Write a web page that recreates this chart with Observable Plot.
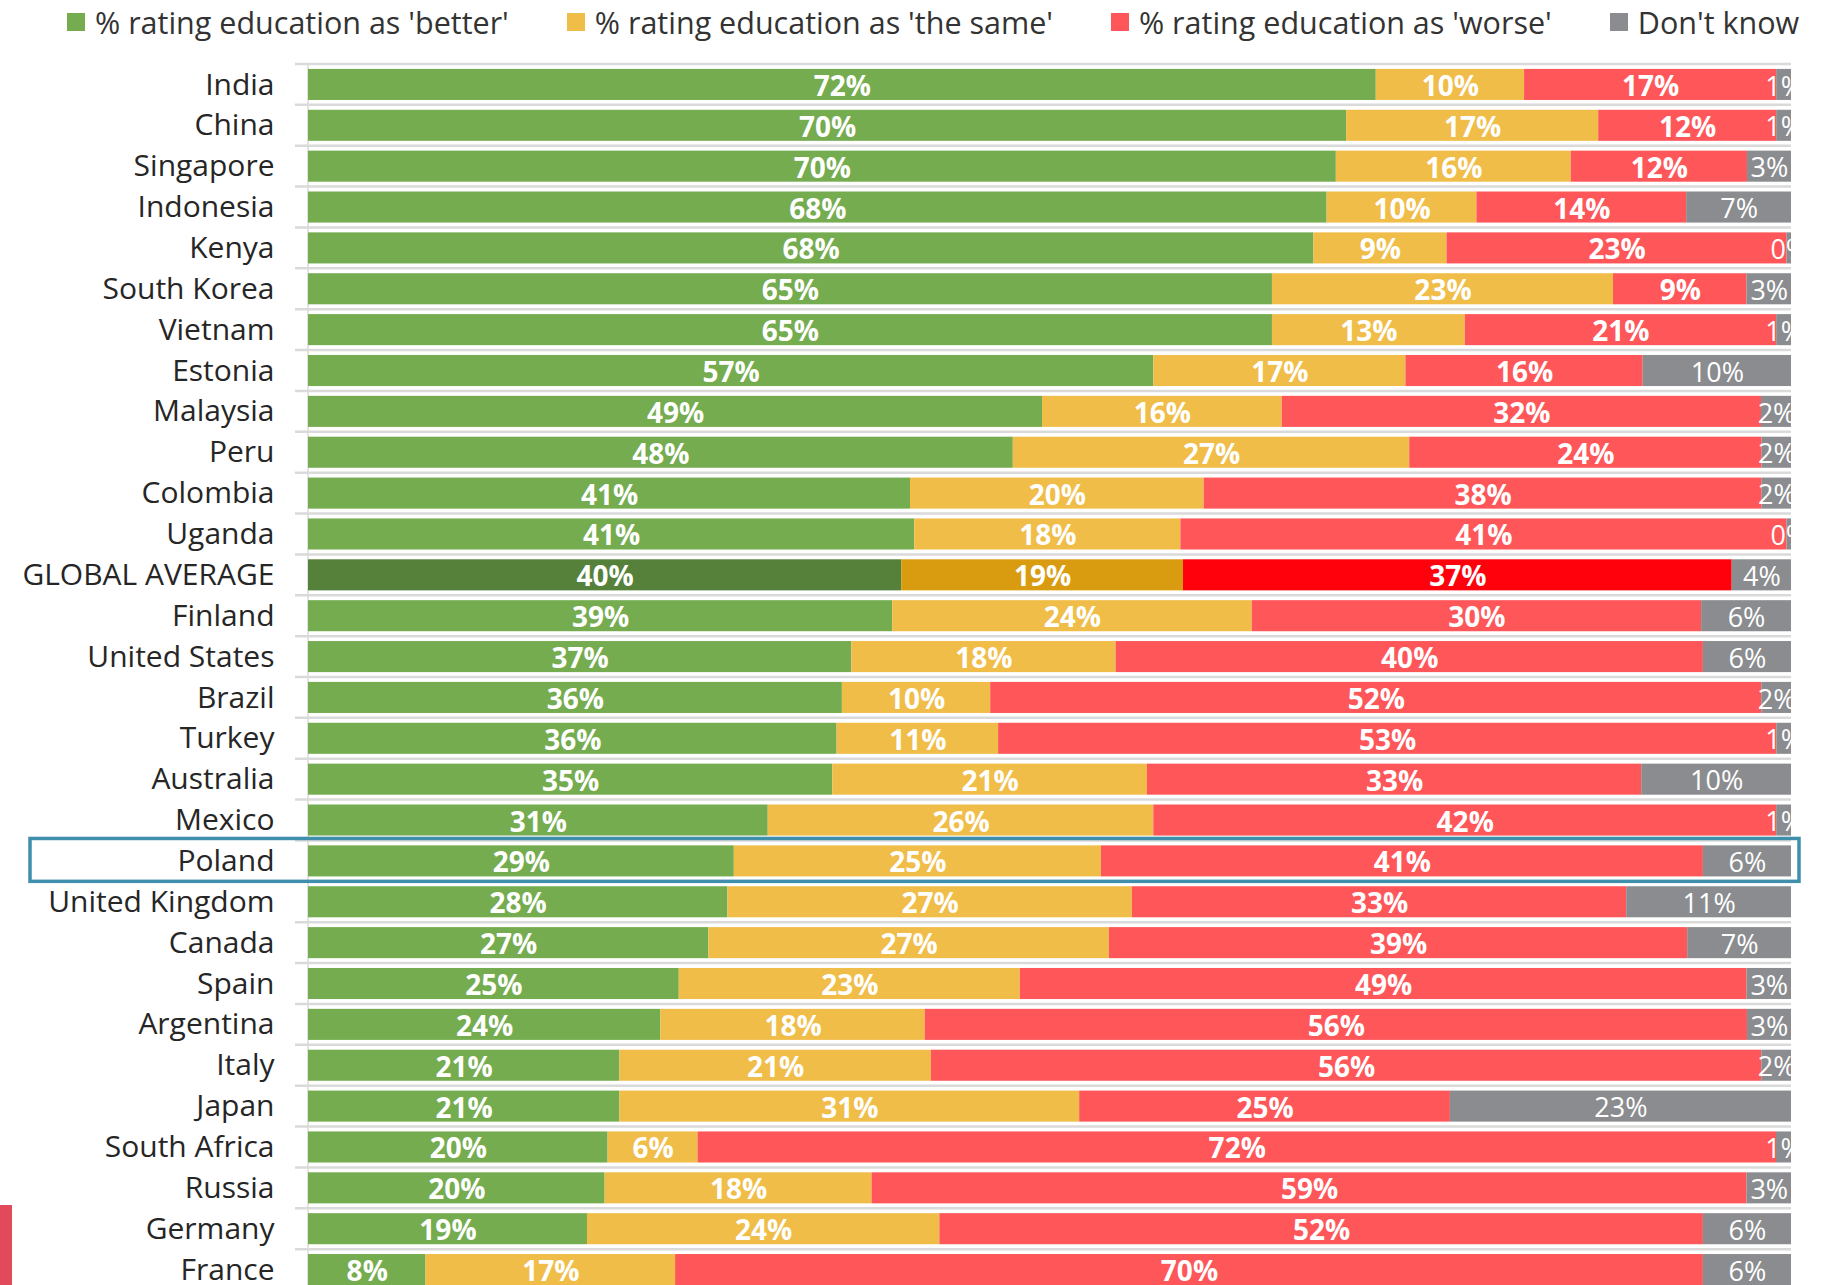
<!DOCTYPE html>
<html>
<head>
<meta charset="utf-8">
<script src="https://cdn.jsdelivr.net/npm/d3@7"></script>
<script src="https://cdn.jsdelivr.net/npm/@observablehq/plot@0.6"></script>
<style>
  html, body { margin: 0; padding: 0; background: #fff; }
  body { width: 1826px; height: 1285px; overflow: hidden; position: relative; font-family: "Open Sans", sans-serif; }
  #legend { height: 44px; position: relative; display: flex; align-items: center; padding-left: 67px; gap: 58px; }
  .item { display: flex; align-items: center; font-size: 30.5px; color: #333; white-space: nowrap; }
  .sw { width: 18px; height: 18px; margin-right: 10px; }
  #artifact { position: absolute; left: 0; top: 1205px; width: 12px; height: 80px; background: #e04a5a; }
  svg { display: block; }
</style>
</head>
<body>
<div id="legend"></div>
<div id="chart"></div>
<div id="artifact"></div>
<script>
const countries = ["India","China","Singapore","Indonesia","Kenya","South Korea","Vietnam","Estonia","Malaysia","Peru","Colombia","Uganda","GLOBAL AVERAGE","Finland","United States","Brazil","Turkey","Australia","Mexico","Poland","United Kingdom","Canada","Spain","Argentina","Italy","Japan","South Africa","Russia","Germany","France"];
const better   = [72,70,70,68,68,65,65,57,49,48,41,41,40,39,37,36,36,35,31,29,28,27,25,24,21,21,20,20,19,8];
const same     = [10,17,16,10,9,23,13,17,16,27,20,18,19,24,18,10,11,21,26,25,27,27,23,18,21,31,6,18,24,17];
const worse    = [17,12,12,14,23,9,21,16,32,24,38,41,37,30,40,52,53,33,42,41,33,39,49,56,56,25,72,59,52,70];
const dontKnow = [1,1,3,7,0.3,3,1,10,2,2,2,0.3,4,6,6,2,1,10,1,6,11,7,3,3,2,23,1,3,6,6];

const categories = ["better","same","worse","dk"];
const legendLabels = ["% rating education as 'better'","% rating education as 'the same'","% rating education as 'worse'","Don't know"];
const colors = {better:"#75ac4f", same:"#f0bd48", worse:"#fe5659", dk:"#8a8c8f"};
const highlightColors = {better:"#55813a", same:"#d99c10", worse:"#ff000d", dk:"#8a8c8f"};
const highlightRow = "GLOBAL AVERAGE";
const boxedRow = "Poland";

const series = {better, same, worse, dk: dontKnow};
const rows = [];
countries.forEach((c, i) => {
  categories.forEach(cat => {
    const v = series[cat][i];
    rows.push({country: c, cat, value: v, label: Math.round(v) + "%"});
  });
});

// legend
const legend = document.getElementById("legend");
categories.forEach((cat, i) => {
  const it = document.createElement("div");
  it.className = "item";
  it.innerHTML = `<span class="sw" style="background:${colors[cat]}"></span><span>${legendLabels[i]}</span>`;
  legend.appendChild(it);
});

const marginTop = 20, marginLeft = 308, marginRight = 35, height = 1246;

const separators = (index, scales, values, dims) => {
  const y = scales.y;
  const step = y.step ? y.step() : (dims.height - dims.marginTop - dims.marginBottom) / countries.length;
  const bw = y.bandwidth ? y.bandwidth() : step * 0.76;
  const g = d3.create("svg:g");
  const x1 = dims.marginLeft - 13, x2 = dims.width - dims.marginRight;
  const bounds = countries.map(c => y(c) - (step - bw) / 2);
  bounds.push(bounds[bounds.length - 1] + step);
  g.selectAll("line").data(bounds).join("line")
    .attr("x1", x1).attr("x2", x2).attr("y1", d => d).attr("y2", d => d)
    .attr("stroke", "#dadada").attr("stroke-width", 2.5);
  g.append("line")
    .attr("x1", dims.marginLeft).attr("x2", dims.marginLeft)
    .attr("y1", bounds[0]).attr("y2", dims.height)
    .attr("stroke", "#dadada").attr("stroke-width", 1.5);
  return g.node();
};

const box = (index, scales, values, dims) => {
  const y = scales.y;
  const step = y.step ? y.step() : (dims.height - dims.marginTop - dims.marginBottom) / countries.length;
  const bw = y.bandwidth ? y.bandwidth() : step * 0.76;
  const top = y(boxedRow) - (step - bw) / 2;
  return d3.create("svg:rect")
    .attr("x", 30).attr("y", top - 2)
    .attr("width", dims.width - 27 - 30).attr("height", step + 2)
    .attr("fill", "none").attr("stroke", "#3f8fac").attr("stroke-width", 3.5)
    .node();
};

const chart = Plot.plot({
  width: 1826,
  height,
  marginTop, marginBottom: 0, marginLeft, marginRight,
  style: {fontFamily: "'Open Sans', sans-serif", background: "white", overflow: "visible"},
  x: {domain: [0, 1], axis: null},
  y: {domain: countries, paddingInner: 0.24, paddingOuter: 0.12, round: false, axis: null, label: null},
  color: {type: "identity"},
  marks: [
    separators,
    Plot.barX(rows, Plot.stackX({
      x: "value", y: "country", z: "cat", offset: "normalize",
      fill: d => (d.country === highlightRow ? highlightColors : colors)[d.cat]
    })),
    Plot.text(rows, Plot.stackX({
      x: "value", y: "country", z: "cat", offset: "normalize",
      text: d => d.cat !== "dk" ? d.label : null,
      fill: "white", fontWeight: "bold", fontSize: 28, dy: 2, clip: true
    })),
    Plot.text(rows, Plot.stackX({
      x: "value", y: "country", z: "cat", offset: "normalize",
      text: d => d.cat === "dk" ? d.label : null,
      fill: "white", fontSize: 27, dy: 2, clip: true
    })),
    Plot.axisY({tickSize: 0, tickPadding: 34, fontSize: 30, color: "#262626", label: null}),
    box
  ]
});
document.getElementById("chart").appendChild(chart);
</script>
</body>
</html>
